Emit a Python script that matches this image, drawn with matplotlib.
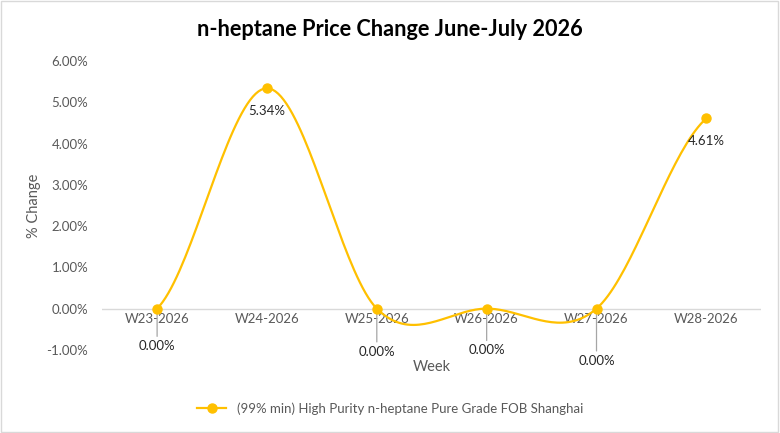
import numpy as np
import matplotlib.pyplot as plt
from matplotlib.patches import Rectangle
from matplotlib.ticker import FuncFormatter

weeks = ['W23-2026', 'W24-2026', 'W25-2026', 'W26-2026', 'W27-2026', 'W28-2026']
change = [0.00, 5.34, 0.00, 0.00, 0.00, 4.61]
series_name = '(99% min) High Purity n-heptane Pure Grade FOB Shanghai'

# label offsets in points (dy), leader line for the ones pushed down
label_dy = [-27, -16, -31, -30, -37.5, -16]
leader = [True, False, True, True, True, False]

gold = '#FFC000'
grey_txt = '#595959'
plt.rcParams['font.family'] = ['Lato', 'DejaVu Sans']


def smooth(ys, n=40):
    # catmull-rom style smoothing like excel's smoothed line
    p = [ys[0]] + list(ys) + [ys[-1]]
    xs_out, ys_out = [], []
    for i in range(len(ys) - 1):
        p0, p1, p2, p3 = p[i], p[i + 1], p[i + 2], p[i + 3]
        m1 = (p2 - p0) / 2
        m2 = (p3 - p1) / 2
        t = np.linspace(0, 1, n)
        h00 = 2 * t**3 - 3 * t**2 + 1
        h10 = t**3 - 2 * t**2 + t
        h01 = -2 * t**3 + 3 * t**2
        h11 = t**3 - t**2
        xs_out.extend(i + t)
        ys_out.extend(h00 * p1 + h10 * m1 + h01 * p2 + h11 * m2)
    return np.array(xs_out), np.array(ys_out)


fig = plt.figure(figsize=(7.8, 4.33), dpi=100)
fig.patches.append(Rectangle((0.001, 0.002), 0.997, 0.995, transform=fig.transFigure,
                             fill=False, edgecolor='#D9D9D9', linewidth=1))
ax = fig.add_axes([0.131, 0.192, 0.845, 0.667])

x = np.arange(len(weeks))
sx, sy = smooth(change)
ax.plot(sx, sy, color=gold, linewidth=1.6, zorder=3)
ax.plot(x, change, linestyle='none', marker='o', markersize=6.5, color=gold, zorder=4,
        label=series_name)

for i, v in enumerate(change):
    ax.annotate(f'{v:.2f}%', (i, v), xytext=(0, label_dy[i]), textcoords='offset points',
                ha='center', va='center', fontsize=9.5, color='#262626', zorder=5)
    if leader[i]:
        ax.annotate('', (i, v), xytext=(0, label_dy[i] + 7), textcoords='offset points',
                    arrowprops=dict(arrowstyle='-', color='#A6A6A6', lw=0.9,
                                    shrinkA=0, shrinkB=0), zorder=2)

ax.set_xlim(-0.5, len(weeks) - 0.5)
ax.set_ylim(-1, 6)
ax.set_yticks(np.arange(-1, 7, 1))
ax.yaxis.set_major_formatter(FuncFormatter(lambda v, p: f'{v:.2f}%'))
ax.set_xticks(x)
ax.set_xticklabels(weeks)
ax.axhline(0, color='#D9D9D9', linewidth=1, zorder=1)
for s in ax.spines.values():
    s.set_visible(False)
ax.tick_params(axis='both', length=0, labelsize=9.5, labelcolor=grey_txt)
ax.tick_params(axis='y', pad=10)
# put category labels just under the zero line
ax.xaxis.set_tick_params(pad=0)
for lbl in ax.get_xticklabels():
    lbl.set_y(0.127)

ax.set_xlabel('Week', fontsize=10.5, color=grey_txt, labelpad=7)
ax.set_ylabel('% Change', fontsize=10.5, color=grey_txt, labelpad=4)

fig.suptitle('n-heptane Price Change June-July 2026', fontsize=15.7, fontweight='bold',
             y=0.955, color='#000000')
fig.legend(loc='center', bbox_to_anchor=(0.5, 0.057), frameon=False, fontsize=9.5,
           handlelength=2.2, labelcolor=grey_txt)
leg = fig.legends[0]
leg.legend_handles[0].set_linestyle('-')
leg.legend_handles[0].set_linewidth(1.6)

fig.savefig('out.png', dpi=100)
